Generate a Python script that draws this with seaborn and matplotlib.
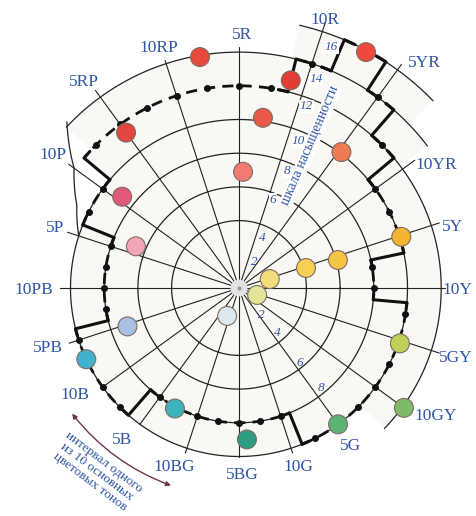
import numpy as np
import pandas as pd
import matplotlib
matplotlib.use('Agg')
import matplotlib.pyplot as plt
from matplotlib.patches import Circle, Wedge
import seaborn as sns

# hue circle (angles in degrees, radii in chroma units)
hue_names = ['5R', '10R', '5YR', '10YR', '5Y', '10Y', '5GY', '10GY', '5G', '10G',
             '5BG', '10BG', '5B', '10B', '5PB', '10PB', '5P', '10P', '5RP', '10RP']
ray_end = [14.3, 16.6, 16.4, 12.9, 12.5, 12.2, 12.5, 12.3, 10.0, 10.3,
           10.0, 10.3, 10.0, 10.1, 10.6, 10.6, 10.7, 12.5, 14.5, 14.2]
label_ang = [89.3, 72.2, 50.4, 31.8, 15.9, -0.5, -17.9, -33, -54.7, -71.8,
             -89, -110, -127.6, -146.9, -162.6, -179.4, 162, 144.4, 127, 108.6]
label_r = [15.0, 16.7, 17.3, 13.8, 13.2, 12.95, 13.5, 13.9, 11.5, 11.2,
           11.1, 11.3, 11.4, 11.6, 11.9, 12.2, 11.5, 13.6, 15.3, 15.0]

full_rings = [4, 6, 8, 10]
arc_c = [12, 14, 16]
arc_from = [-44, 37, 44]
arc_to = [76, 137, 77]
# hand-drawn outer curve on the left
left_ang = [136, 144, 153, 162]
left_r = [14.2, 12.1, 10.8, 10.0]

# gamut boundary: sectors with constant maximum chroma
bnd_from = [-5, 12, 40, 49, 57, 67, 76, 140, 158, 194, 229, 292]
bnd_to = [12, 40, 49, 57, 67, 76, 140, 158, 194, 229, 292, 355]
bnd_c = [8, 10, 12, 14, 16, 14, 12, 10, 8, 10, 8, 10]

# colour samples
dot_ang = [99.6, 126, 142, 158, -161, -155, -118, -87, -54, -36, -19,
           -21, -113, 16.2, 16.6, 15.8, 17.5, 53, 61.7, 76, 82, 88]
dot_c = [13.9, 11.4, 8.8, 6.6, 7.0, 10.0, 8.1, 9.0, 10.0, 12.1, 10.1,
         1.15, 1.8, 1.9, 4.15, 6.1, 10.1, 10.1, 15.9, 12.7, 10.2, 6.9]
dot_col = ['#e8483e', '#e24640', '#e0587a', '#f2a6b6', '#a9bfe3', '#3fb2cf',
           '#3fb3bd', '#2e9d82', '#5cb378', '#7dbb66', '#c0cf5a', '#e6e49a',
           '#dde8ee', '#f3dc7a', '#f6cf55', '#f6c444', '#f4b330', '#f07a52',
           '#ee4a3c', '#e23c36', '#ea5a4a', '#f27a6e']

# chroma scales
scale1 = [2, 4, 6, 8, 10, 12, 14, 16]
scale1_r = [1.8, 3.3, 5.6, 7.5, 9.4, 11.5, 13.2, 15.3]
scale1_ang = [60.6, 65, 69, 67.5, 68, 69.7, 69.7, 69]
scale2 = [2, 4, 6, 8]
scale2_r = [2.1, 3.5, 5.7, 7.7]
scale2_ang = [-51, -50, -51, -50.6]

BLUE = '#2f55a6'
PAPER = '#f9f8f4'
PX = 16.85


def pol(r, a):
    a = np.radians(a)
    return r * np.cos(a), r * np.sin(a)


sns.set_theme(style='white')
plt.rcParams['font.family'] = ['Liberation Serif', 'DejaVu Serif']

fig = plt.figure(figsize=(4.76, 5.16), dpi=100)
ax = fig.add_axes([0, 0, 1, 1])
ax.set_xlim(-239 / PX, 237 / PX)
ax.set_ylim(-228 / PX, 288 / PX)
ax.axis('off')

# paper tint
ax.add_patch(Circle((0, 0), 10.0, fc=PAPER, ec='none', zorder=0))
ax.add_patch(Wedge((0, 0), 12.0, -44, 140, fc=PAPER, ec='none', zorder=0))
ax.add_patch(Wedge((0, 0), 14.0, 37, 137, fc=PAPER, ec='none', zorder=0))
ax.add_patch(Wedge((0, 0), 16.0, 44, 77, fc=PAPER, ec='none', zorder=0))

t = np.linspace(0, 360, 400)
for c in full_rings:
    x, y = pol(c, t)
    ax.plot(x, y, color='#222222', lw=0.9, zorder=1)
for c, a0, a1 in zip(arc_c, arc_from, arc_to):
    tt = np.linspace(a0, a1, 120)
    x, y = pol(c, tt)
    ax.plot(x, y, color='#222222', lw=0.9, zorder=1)
tt = np.linspace(left_ang[0], left_ang[-1], 60)
x, y = pol(np.interp(tt, left_ang, left_r), tt)
ax.plot(x, y, color='#222222', lw=0.9, zorder=1)

# hue rays and labels
for i, name in enumerate(hue_names):
    a = 90 - 18 * i
    x, y = pol(np.array([0, ray_end[i]]), a)
    ax.plot(x, y, color='#222222', lw=0.8, zorder=1)
    lx, ly = pol(label_r[i], label_ang[i])
    ax.text(lx, ly, name, color=BLUE, fontsize=12.5, ha='center', va='center', zorder=6)

# boundary of the colour solid
for k, (a0, a1, c) in enumerate(zip(bnd_from, bnd_to, bnd_c)):
    tt = np.linspace(a0, a1, 80)
    x, y = pol(c, tt)
    ax.plot(x, y, color='#111111', lw=2.0, ls=(0, (4, 2.6)), zorder=2)
    dots = [d for d in range(-360, 720, 9) if a0 + 2.5 < d < a1 - 2.5]
    if dots:
        dx, dy = pol(c, np.array(dots, dtype=float))
        ax.plot(dx, dy, 'o', color='#111111', ms=4, zorder=2)
    c_next = bnd_c[(k + 1) % len(bnd_c)]
    sx, sy = pol(np.array([c, c_next]), a1)
    ax.plot(sx, sy, color='#111111', lw=2.2, zorder=2)
    # short solid shoulders at each step
    for cc, side in ((c, -2.5), (c_next, 2.5)):
        tt = np.linspace(a1, a1 + side, 10)
        x, y = pol(cc, tt)
        ax.plot(x, y, color='#111111', lw=2.2, zorder=2)

# colour samples
dx, dy = pol(np.array(dot_c), np.array(dot_ang))
samples = pd.DataFrame({'x': dx, 'y': dy, 'id': [str(i) for i in range(len(dot_c))]})
sns.scatterplot(data=samples, x='x', y='y', hue='id', palette=dot_col, s=185,
                edgecolor='#7d6d62', linewidth=0.8, legend=False, ax=ax, zorder=5)
ax.scatter([0], [0], s=150, color='#e2e2e2', edgecolor='none', zorder=5)
ax.scatter([0], [0], s=4, color='#999999', zorder=6)

# chroma scales
for v, r, a in zip(scale1, scale1_r, scale1_ang):
    x, y = pol(r, a)
    ax.text(x, y, str(v), color=BLUE, fontsize=9.5, style='italic', ha='center',
            va='center', zorder=6,
            bbox=dict(fc='white', ec='none', pad=0.5) if v > 4 else None)
for v, r, a in zip(scale2, scale2_r, scale2_ang):
    x, y = pol(r, a)
    ax.text(x, y, str(v), color=BLUE, fontsize=9.5, style='italic', ha='center',
            va='center', zorder=6)

x, y = pol(9.45, 63.3)
ax.text(x, y, 'шкала насыщенности', color=BLUE, fontsize=10, rotation=67,
        ha='center', va='center', rotation_mode='anchor', zorder=6,
        bbox=dict(fc='white', ec='none', pad=0.3))

# interval of one principal hue
p0 = pol(12.4, -143)
p1 = pol(12.4, -109)
ax.annotate('', xy=p1, xytext=p0,
            arrowprops=dict(arrowstyle='<|-|>', color='#6e3452', lw=1.0,
                            mutation_scale=7, shrinkA=0, shrinkB=0,
                            connectionstyle='arc3,rad=0.14'), zorder=6)
ax.text(97 / PX - 239 / PX, 288 / PX - 472 / PX,
        'интервал одного\nиз 10 основных\nцветовых тонов', color=BLUE,
        fontsize=9.5, rotation=-37, ha='center', va='center',
        multialignment='center', linespacing=1.0, zorder=6)

fig.savefig('out.png', dpi=100)
